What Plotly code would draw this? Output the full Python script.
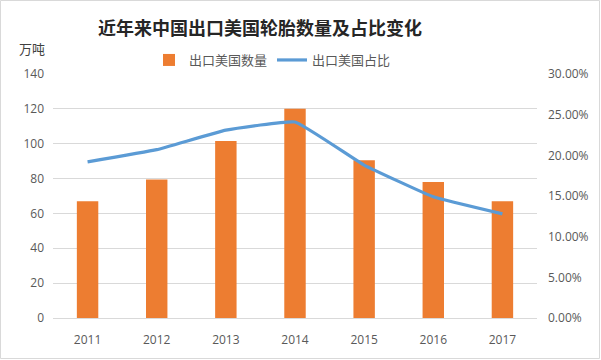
import plotly.graph_objects as go

years = ["2011", "2012", "2013", "2014", "2015", "2016", "2017"]
export_volume = [67, 79.5, 101.5, 120, 90.5, 78, 67]
export_share = [19.2, 20.7, 23.1, 24.1, 18.8, 14.9, 12.8]
left_ticks = [0, 20, 40, 60, 80, 100, 120, 140]
right_ticks = [0, 5, 10, 15, 20, 25, 30]
right_tick_labels = ["0.00%", "5.00%", "10.00%", "15.00%", "20.00%", "25.00%", "30.00%"]

W, H = 601, 360
L, R, T, B = 53, 64, 74, 42
PW, PH = W - L - R, H - T - B

fig = go.Figure()
fig.add_trace(go.Bar(
    x=years, y=export_volume, name="出口美国数量",
    marker=dict(color="#ED7D31", line=dict(width=0)),
    width=0.31, yaxis="y",
))
fig.add_trace(go.Scatter(
    x=years, y=export_share, name="出口美国占比", mode="lines",
    line=dict(color="#5B9BD5", width=3.2, shape="spline", smoothing=0.3),
    yaxis="y2",
))

tick_font = dict(family="Open Sans, Liberation Sans, sans-serif", size=12, color="#595959")

fig.update_layout(
    width=W, height=H,
    margin=dict(l=L, r=R, t=T, b=B),
    paper_bgcolor="white", plot_bgcolor="white",
    showlegend=True,
    legend=dict(
        orientation="h", x=(149 - L) / PW, xanchor="left",
        y=1 + (T - 60) / PH, yanchor="middle",
        font=dict(family="Noto Sans CJK SC", size=13, color="#595959"),
        itemwidth=30, tracegroupgap=0, bgcolor="rgba(0,0,0,0)",
    ),
    xaxis=dict(
        type="category", showgrid=False, zeroline=False,
        showline=True, linecolor="#D9D9D9", linewidth=1,
        ticks="", tickfont=tick_font, ticklabelstandoff=11,
    ),
    yaxis=dict(
        range=[0, 140], tickvals=left_ticks, showgrid=True, gridcolor="#D9D9D9",
        gridwidth=1, zeroline=False, showline=False, ticks="", tickfont=tick_font,
        ticklabelstandoff=8,
    ),
    yaxis2=dict(
        range=[0, 30], tickvals=right_ticks, ticktext=right_tick_labels,
        overlaying="y", side="right", showgrid=False, zeroline=False,
        showline=False, ticks="", tickfont=tick_font, ticklabelstandoff=10,
    ),
    annotations=[
        dict(text="近年来中国出口美国轮胎数量及占比变化", xref="paper", yref="paper",
             x=(260 - L) / PW, y=1 + (T - 27) / PH, xanchor="center", yanchor="middle",
             showarrow=False,
             font=dict(family="Noto Sans CJK SC", size=18, color="#262626", weight="bold")),
        dict(text="万吨", xref="paper", yref="paper",
             x=(17 - L) / PW, y=1 + (T - 48) / PH, xanchor="left", yanchor="middle",
             showarrow=False,
             font=dict(family="Noto Sans CJK SC", size=13, color="#404040")),
    ],
    shapes=[
        dict(type="rect", xref="paper", yref="paper",
             x0=(0.5 - L) / PW, x1=(W - 1.5 - L) / PW,
             y0=-(B - 1.5) / PH, y1=1 + (T - 0.5) / PH,
             line=dict(color="#D9D9D9", width=1), layer="below"),
    ],
)

fig.write_html("out.html", config={"displayModeBar": False},
               post_script="document.body.style.margin='0';")
